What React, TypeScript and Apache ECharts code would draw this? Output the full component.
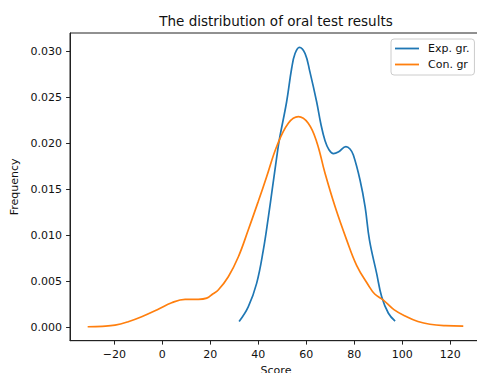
import React, { useEffect, useRef } from 'react';
import * as echarts from 'echarts';

const titleText = 'The distribution of oral test results';
const seriesNames = ['Exp. gr.', 'Con. gr'];

const expScores = [32.0, 35.8, 39.3, 42.1, 44.2, 45.8, 47.7, 48.75, 51.8, 53.9, 55.3, 57.1, 59.5, 61.5, 64.3, 66.0, 67.8, 69.5, 71.3, 73.5, 76.5, 78.2, 79.6, 82.4, 84.5, 86.3, 89.3, 91.4, 94.2, 97.0];
const expDensity = [0.0006, 0.0022, 0.00476, 0.0084, 0.012, 0.015, 0.01856, 0.0204, 0.02455, 0.0282, 0.0298, 0.03048, 0.0298, 0.0278, 0.02455, 0.0222, 0.0203, 0.0193, 0.0189, 0.0191, 0.01965, 0.0194, 0.01874, 0.016, 0.0131, 0.0095, 0.00585, 0.0033, 0.0015, 0.00065];

const conScores = [-31.1, -25.0, -19.7, -14.2, -8.6, -1.7, 3.9, 9.5, 15.0, 18.5, 21.0, 23.3, 27.5, 31.7, 35.8, 40.0, 43.5, 47.7, 52.5, 56.7, 60.8, 64.3, 67.8, 72.0, 76.8, 81.0, 85.8, 88.5, 92.1, 96.5, 101.8, 106.5, 111.5, 118.0, 125.4];
const conDensity = [0.00003, 0.00008, 0.0002, 0.00058, 0.00112, 0.00193, 0.00265, 0.00302, 0.00302, 0.00315, 0.0036, 0.00403, 0.00548, 0.00766, 0.01057, 0.0137, 0.0164, 0.0197, 0.0222, 0.02292, 0.0222, 0.0202, 0.01675, 0.0131, 0.0095, 0.0067, 0.00458, 0.0036, 0.00294, 0.0019, 0.00112, 0.0006, 0.0003, 0.00015, 0.0001];

const xTicks = [-20, 0, 20, 40, 60, 80, 100, 120];
const yTicks = [0, 0.005, 0.01, 0.015, 0.02, 0.025, 0.03];

const FONT = 'DejaVu Sans';

export default function App() {
  const ref = useRef<HTMLDivElement>(null);
  useEffect(() => {
    if (!ref.current) return;
    const chart = echarts.init(ref.current, null, { renderer: 'svg' });
    const zip = (xs: number[], ys: number[]) => xs.map((x, i) => [x, ys[i]]);
    chart.setOption({
      animation: false,
      textStyle: { fontFamily: FONT },
      graphic: [
        {
          type: 'text',
          x: 276,
          y: 20.8,
          style: {
            text: titleText,
            fontFamily: FONT,
            fontSize: 13.5,
            fill: '#111',
            textAlign: 'center',
            textVerticalAlign: 'middle',
          },
        },
      ],
      grid: {
        left: 70,
        top: 33,
        width: 412,
        height: 307.7,
        show: true,
        borderColor: '#222',
        borderWidth: 1,
        backgroundColor: 'transparent',
        outerBoundsMode: 'none',
        containLabel: false,
      },
      legend: {
        orient: 'vertical',
        left: 391,
        top: 39,
        data: seriesNames,
        icon: 'rect',
        itemWidth: 24,
        itemHeight: 1.8,
        itemGap: 5,
        padding: [4, 5, 5, 4],
        backgroundColor: 'rgba(255,255,255,0.8)',
        borderColor: '#cccccc',
        borderWidth: 1,
        borderRadius: 3,
        textStyle: { fontFamily: FONT, fontSize: 11, color: '#111', padding: [0, 0, 0, 4] },
      },
      xAxis: {
        type: 'value',
        min: -38.46,
        max: 133.2,
        name: 'Score',
        nameLocation: 'middle',
        nameGap: 23,
        nameTextStyle: { fontFamily: FONT, fontSize: 11, color: '#111' },
        axisLine: { show: true, onZero: false, lineStyle: { color: '#222', width: 1 } },
        splitLine: { show: false },
        axisTick: { show: true, length: 3.9, lineStyle: { color: '#222' }, customValues: xTicks },
        axisLabel: {
          fontFamily: FONT,
          fontSize: 11,
          color: '#111',
          margin: 8,
          customValues: xTicks,
          formatter: (v: number) => String(v).replace('-', '\u2212'),
        },
      },
      yAxis: {
        type: 'value',
        min: -0.00149,
        max: 0.03204,
        name: 'Frequency',
        nameLocation: 'middle',
        nameGap: 46,
        nameTextStyle: { fontFamily: FONT, fontSize: 11, color: '#111' },
        axisLine: { show: true, onZero: false, lineStyle: { color: '#222', width: 1 } },
        splitLine: { show: false },
        axisTick: { show: true, length: 3.9, lineStyle: { color: '#222' }, customValues: yTicks },
        axisLabel: {
          fontFamily: FONT,
          fontSize: 11,
          color: '#111',
          margin: 8,
          customValues: yTicks,
          formatter: (v: number) => v.toFixed(3),
        },
      },
      series: [
        {
          name: seriesNames[0],
          type: 'line',
          data: zip(expScores, expDensity),
          smooth: 0.4,
          symbol: 'none',
          lineStyle: { color: '#1f77b4', width: 1.7 },
          itemStyle: { color: '#1f77b4' },
        },
        {
          name: seriesNames[1],
          type: 'line',
          data: zip(conScores, conDensity),
          smooth: 0.4,
          symbol: 'none',
          lineStyle: { color: '#ff7f0e', width: 1.7 },
          itemStyle: { color: '#ff7f0e' },
        },
      ],
    });
    return () => chart.dispose();
  }, []);
  return (
    <div
      ref={ref}
      style={{ position: 'fixed', left: 0, top: 0, width: 477, height: 373, background: '#fff' }}
    />
  );
}
